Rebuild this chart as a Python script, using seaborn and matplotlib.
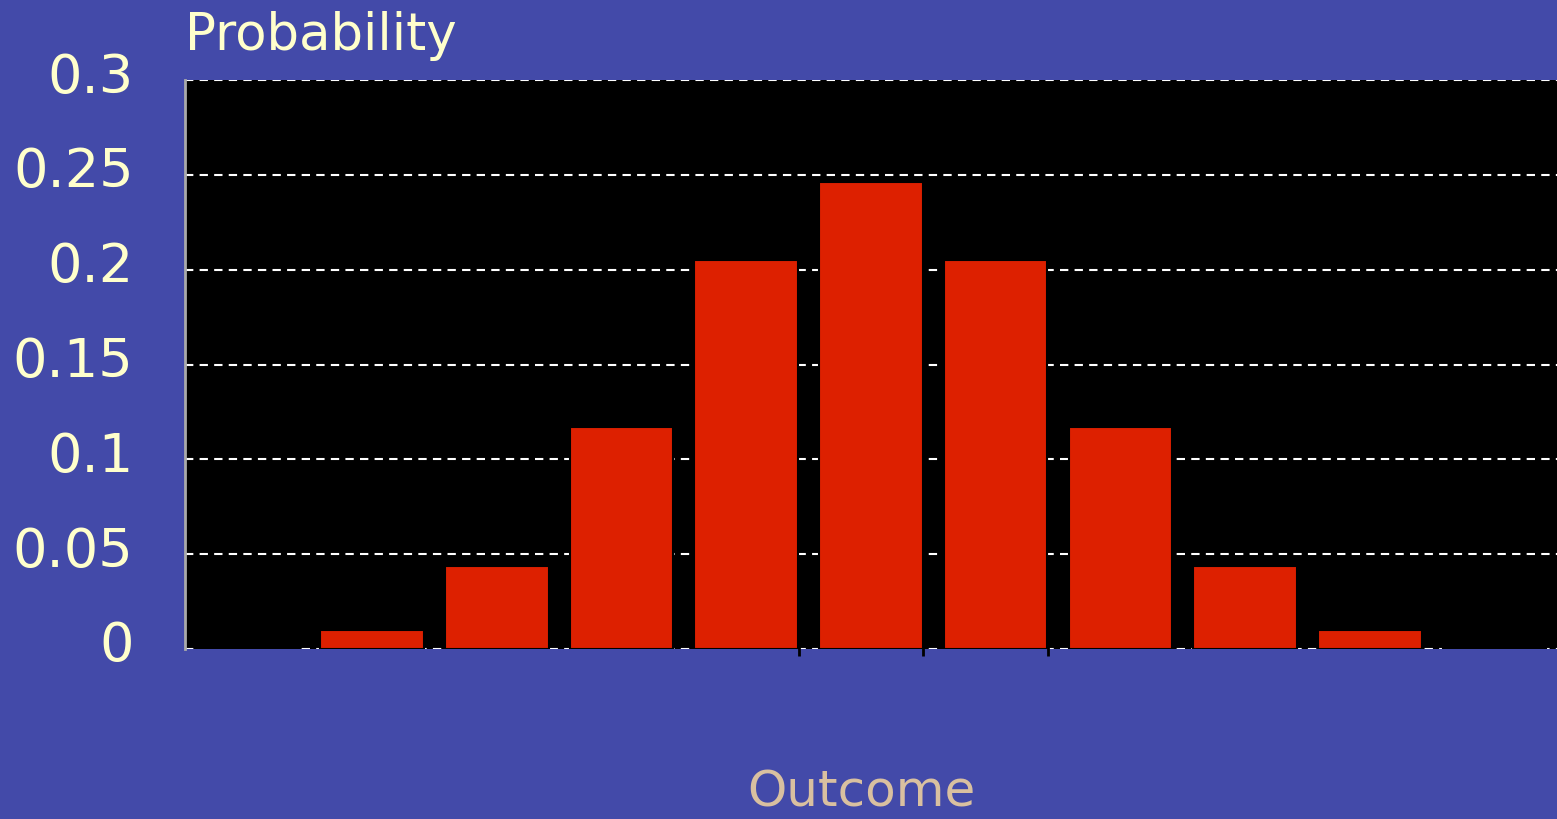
import numpy as np
import pandas as pd
import seaborn as sns
import matplotlib.pyplot as plt
from matplotlib.transforms import ScaledTranslation

# ---- data (binomial n=10, p=0.5) ----
outcomes = list(range(11))
probs = [0.001, 0.0098, 0.044, 0.117, 0.205, 0.246, 0.205, 0.117, 0.044, 0.0098, 0.001]
y_ticks = [0, 0.05, 0.1, 0.15, 0.2, 0.25, 0.3]
y_labels = ["0", "0.05", "0.1", "0.15", "0.2", "0.25", "0.3"]
x_marks = [4.42, 5.42, 6.42]

df = pd.DataFrame({"outcome": outcomes, "prob": probs})

bg = "#434AA9"
bar_col = "#DD2000"
txt = "#FFFFCC"

sns.set_style("dark")
plt.rcParams['font.family'] = ['DejaVu Sans']

fig = plt.figure(figsize=(15.57, 8.19), dpi=100, facecolor=bg)
ax = fig.add_axes([0.1188, 0.2076, 0.8812, 0.6946])
ax.set_facecolor("black")

sns.barplot(data=df, x="outcome", y="prob", color=bar_col, width=0.83,
            edgecolor="black", linewidth=1.5, saturation=1, ax=ax)

ax.set_ylim(0, 0.3)
ax.set_xlim(-0.5, 10.5)
ax.set_yticks(y_ticks)
ax.set_yticklabels(y_labels)
ax.grid(False)
for v in y_ticks:
    ax.axhline(v, color="white", linestyle=(0, (4, 3)), linewidth=1.5, zorder=0.5)

ax.tick_params(axis="y", colors=txt, labelsize=39, length=0, pad=37)
shift = ScaledTranslation(0, 8 / 100, fig.dpi_scale_trans)
for lab in ax.get_yticklabels():
    lab.set_transform(lab.get_transform() + shift)

ax.set_xticks(x_marks)
ax.set_xticklabels([])
ax.tick_params(axis="x", bottom=True, colors="black", length=10, width=2,
               direction="inout")

for s in ["top", "right", "bottom"]:
    ax.spines[s].set_visible(False)
ax.spines["left"].set_color("#AAAAAA")
ax.spines["left"].set_linewidth(2)

ax.set_xlabel("")
ax.set_ylabel("")
fig.text(0.119, 0.925, "Probability", color=txt, fontsize=37, ha="left", va="bottom")
fig.text(0.553, 0.003, "Outcome", color="#D9C0A0", fontsize=36, ha="center", va="bottom")

fig.savefig("out.png", dpi=100, facecolor=bg)
